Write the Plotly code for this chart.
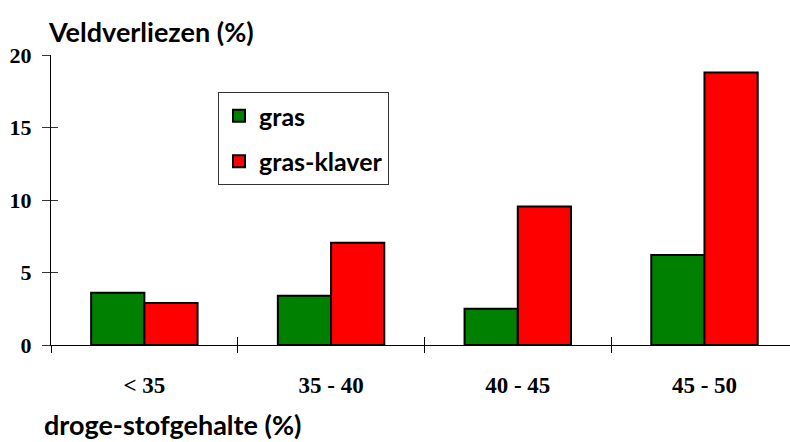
import plotly.graph_objects as go

# Dry-matter classes and field losses (%) per crop type
categories = ["< 35", "35 - 40", "40 - 45", "45 - 50"]
gras = [3.6, 3.4, 2.5, 6.2]
gras_klaver = [2.9, 7.05, 9.55, 18.8]
y_ticks = [0, 5, 10, 15, 20]

SANS = "Lato"
SERIF = "Liberation Serif"
fig = go.Figure()
fig.add_trace(go.Bar(
    x=categories, y=gras, name="gras", legendgroup="a",
    marker=dict(color="#008000", line=dict(color="black", width=2)),
))
fig.add_trace(go.Bar(
    x=categories, y=gras_klaver, name="gras-klaver", legendgroup="b",
    marker=dict(color="#FF0000", line=dict(color="black", width=2)),
))

axis_common = dict(showgrid=False, zeroline=False)
fig.update_layout(
    width=790, height=442,
    margin=dict(l=51, r=0, t=55, b=97),
    paper_bgcolor="white", plot_bgcolor="white",
    barmode="group", bargap=0.43, bargroupgap=0,
    font=dict(family=SANS, size=19, color="black", weight=700),
    showlegend=True,
    legend=dict(
        x=0.226, y=0.872, xanchor="left", yanchor="top",
        bordercolor="#333", borderwidth=1, bgcolor="white",
        font=dict(size=25, family=SANS, weight=700),
        tracegroupgap=10, traceorder="grouped",
    ),
    xaxis=dict(
        **axis_common, type="category", range=[-0.5, 3.458],
        showline=True, linecolor="black", linewidth=1,
        ticks="outside", ticklen=7, tickcolor="black", tickwidth=1,
        tickson="boundaries", ticklabelstandoff=19,
        tickfont=dict(size=23, family=SERIF, weight=700),
    ),
    xaxis2=dict(
        **axis_common, type="category", range=[-0.5, 3.458], overlaying="x",
        matches="x", ticks="inside", ticklen=8, tickcolor="black",
        tickson="boundaries", showticklabels=False, showline=False,
    ),
    yaxis=dict(
        **axis_common, range=[0, 20], tickvals=y_ticks,
        showline=True, linecolor="black", linewidth=1,
        ticks="outside", ticklen=8, tickcolor="#333", tickwidth=1,
        ticklabelstandoff=6,
        tickfont=dict(size=22, family=SERIF, weight=700),
    ),
    yaxis2=dict(
        **axis_common, range=[0, 20], tickvals=y_ticks, overlaying="y",
        ticks="inside", ticklen=7, tickcolor="#333", showticklabels=False,
    ),
)

# Invisible trace to bring the overlay axes (inner tick halves) into view
fig.add_trace(go.Bar(x=categories, y=[None] * 4, xaxis="x2", yaxis="y2",
                     showlegend=False, hoverinfo="skip"))

fig.add_annotation(text="<b>Veldverliezen (%)</b>", xref="paper", yref="paper",
                   x=0, y=1, xshift=-5, yshift=24, xanchor="left", yanchor="middle",
                   showarrow=False, font=dict(size=27, family=SANS))
fig.add_annotation(text="<b>droge-stofgehalte (%)</b>", xref="paper", yref="paper",
                   x=0, y=0, xshift=-9, yshift=-79, xanchor="left", yanchor="middle",
                   showarrow=False, font=dict(size=27, family=SANS))

fig.write_html("out.html")
